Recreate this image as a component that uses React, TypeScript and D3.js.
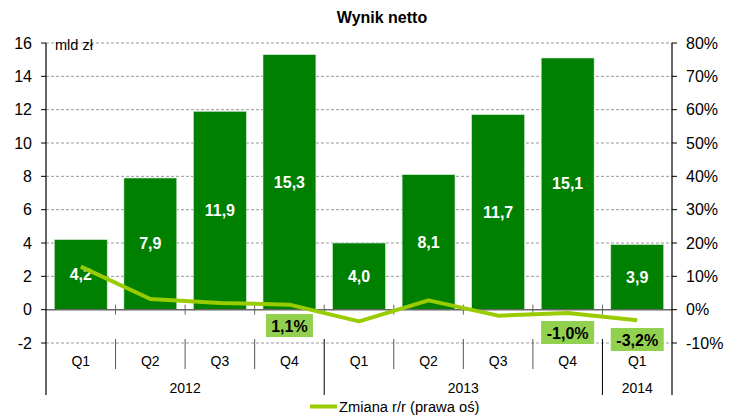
import React from "react";
import * as d3 from "d3";

const quarters = ["Q1", "Q2", "Q3", "Q4", "Q1", "Q2", "Q3", "Q4", "Q1"];
const years = [
  { label: "2012", span: 4 },
  { label: "2013", span: 4 },
  { label: "2014", span: 1 },
];
const netResult = [4.2, 7.9, 11.9, 15.3, 4.0, 8.1, 11.7, 15.1, 3.9];
const yoyChange = [12.9, 3.2, 2.0, 1.5, -3.5, 2.8, -1.8, -1.0, -3.2];
const calloutIdx = [3, 7, 8];
const calloutText = ["1,1%", "-1,0%", "-3,2%"];
const leftTicks = [-2, 0, 2, 4, 6, 8, 10, 12, 14, 16];
const rightTicks = [-10, 0, 10, 20, 30, 40, 50, 60, 70, 80];

const W = 729, H = 416;
const L = 46, R = 672, T = 43, B = 343;
const font = "Arial, 'Liberation Sans', sans-serif";

export default function App() {
  const y = d3.scaleLinear().domain([-2, 16]).range([B, T]);
  const y2 = d3.scaleLinear().domain([-10, 80]).range([B, T]);
  const x = d3.scaleBand().domain(quarters.map((_, i) => String(i))).range([L, R]).paddingInner(0.24).paddingOuter(0.12);
  const step = (R - L) / quarters.length;
  const cx = (i: number) => L + step * (i + 0.5);
  const line = d3.line<number>().x((_, i) => cx(i)).y((d) => y2(d));
  const fmt = (v: number) => v.toFixed(1).replace(".", ",");

  let acc = 0;
  const yearPos = years.map((yr) => {
    const s = acc;
    acc += yr.span;
    return { ...yr, start: s, end: acc };
  });

  return (
    <svg width={W} height={H} style={{ position: "absolute", left: 0, top: 0, fontFamily: font }}>
      <rect width={W} height={H} fill="#fff" />
      <text x={382} y={22.5} textAnchor="middle" fontWeight="bold" fontSize={16}>Wynik netto</text>
      {leftTicks.map((t) => (
        t !== 0 ? <line key={"g" + t} x1={L} x2={R} y1={y(t)} y2={y(t)} stroke="#999" strokeDasharray="3,2" strokeWidth={1} /> : null
      ))}
      {netResult.map((v, i) => (
        <rect key={"b" + i} x={x(String(i))} y={y(v)} width={x.bandwidth()} height={y(0) - y(v)} fill="#008000" stroke="#cfe6cf" strokeWidth={0.6} />
      ))}
      <line x1={L} x2={R} y1={y(0)} y2={y(0)} stroke="#666" strokeWidth={1.5} />
      {quarters.map((_, i) => i > 0 ? (
        <line key={"zt" + i} x1={L + step * i} x2={L + step * i} y1={y(0) - 5} y2={y(0) + 5} stroke="#666" strokeWidth={1} />
      ) : null)}
      {netResult.map((v, i) => (
        <text key={"l" + i} x={cx(i)} y={y(v / 2)} dy="0.35em" textAnchor="middle" fill="#fff" fontWeight="bold" fontSize={16}>{fmt(v)}</text>
      ))}
      <path d={line(yoyChange) || ""} fill="none" stroke="#99CC00" strokeWidth={4} strokeLinejoin="round" />
      {calloutIdx.map((ci, k) => {
        const bw = calloutText[k].length > 4 ? 53 : 47;
        const by = k === 0 ? 314 : k === 1 ? 321 : 328;
        return (
          <g key={"c" + k}>
            <rect x={cx(ci) - bw / 2} y={by} width={bw} height={23} fill="#92D050" />
            <text x={cx(ci)} y={by + 12} dy="0.35em" textAnchor="middle" fontWeight="bold" fontSize={16} fill="#000">{calloutText[k]}</text>
          </g>
        );
      })}
      {/* axes */}
      <line x1={L} x2={L} y1={T} y2={395} stroke="#000" strokeWidth={1.2} />
      <line x1={R} x2={R} y1={T} y2={395} stroke="#000" strokeWidth={1.2} />
      {leftTicks.map((t) => (
        <g key={"lt" + t}>
          <line x1={L - 5} x2={L} y1={y(t)} y2={y(t)} stroke="#000" />
          <text x={32} y={y(t)} dy="0.35em" textAnchor="end" fontSize={16}>{t}</text>
        </g>
      ))}
      {rightTicks.map((t) => (
        <g key={"rt" + t}>
          <line x1={R} x2={R + 5} y1={y2(t)} y2={y2(t)} stroke="#000" />
          <text x={686} y={y2(t)} dy="0.35em" textAnchor="start" fontSize={16}>{t + "%"}</text>
        </g>
      ))}
      <text x={55} y={45} dy="0.35em" fontSize={14.5}>mld zł</text>
      {/* category axis */}
      {quarters.map((q, i) => (
        <text key={"q" + i} x={cx(i)} y={361} dy="0.35em" textAnchor="middle" fontSize={14}>{q}</text>
      ))}
      {quarters.map((_, i) => i > 0 && !yearPos.some((yp) => yp.start === i) ? (
        <line key={"qs" + i} x1={L + step * i} x2={L + step * i} y1={339} y2={369} stroke="#555" strokeWidth={1} />
      ) : null)}
      {yearPos.map((yp, k) => (
        <g key={"y" + k}>
          {k > 0 ? <line x1={L + step * yp.start} x2={L + step * yp.start} y1={339} y2={395} stroke="#000" strokeWidth={1} /> : null}
          <text x={L + step * (yp.start + yp.end) / 2} y={388} dy="0.35em" textAnchor="middle" fontSize={14}>{yp.label}</text>
        </g>
      ))}
      {/* legend */}
      <line x1={310} x2={337} y1={406.5} y2={406.5} stroke="#99CC00" strokeWidth={4} />
      <text x={339} y={406.5} dy="0.35em" fontSize={14.7}>Zmiana r/r (prawa oś)</text>
    </svg>
  );
}
